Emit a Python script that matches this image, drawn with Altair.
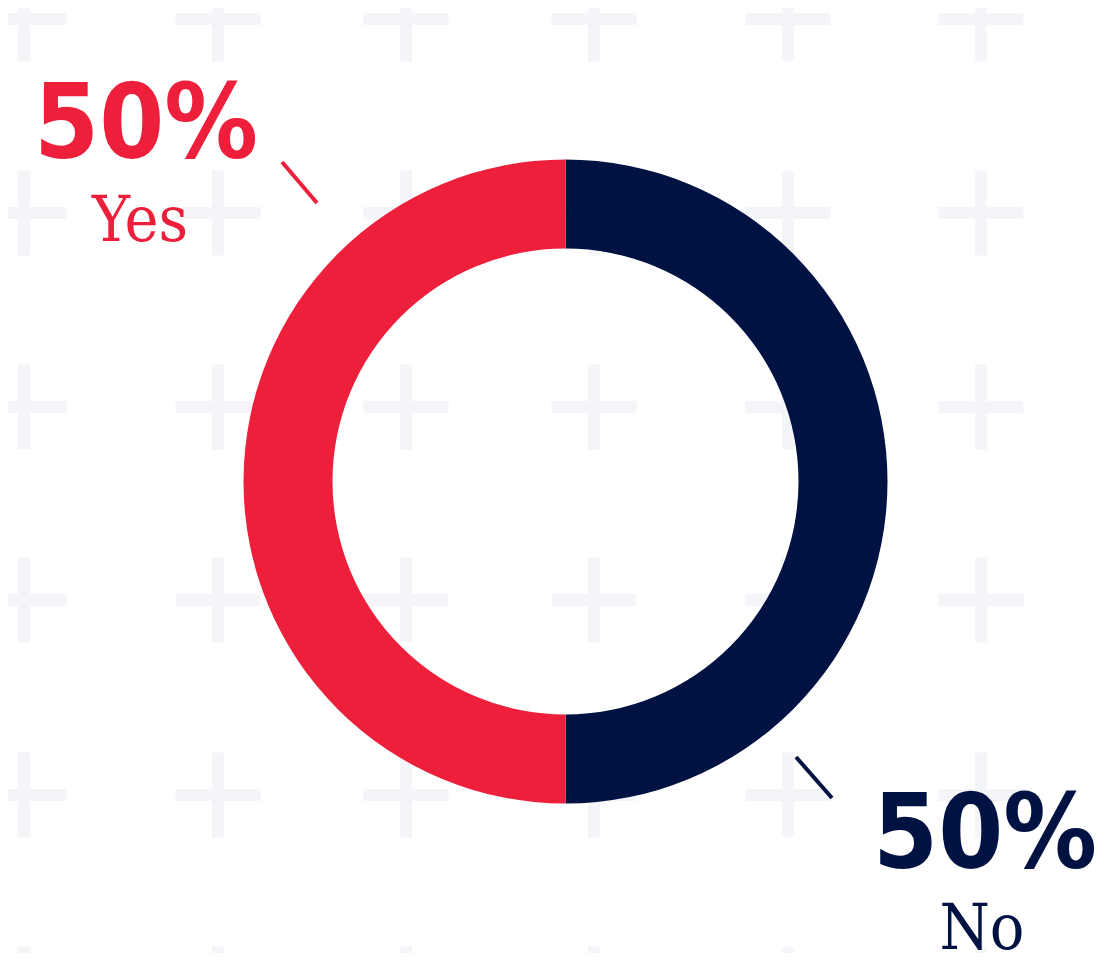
import altair as alt
import pandas as pd

# ---- data (screen pixel reference frame for positions) ----
answers = ["No", "Yes"]
shares = [50, 50]
pct_text = ["50%", "50%"]
answer_colors = ["#001242", "#EE1F3B"]

donut_center_x = [565.5]
donut_center_y = [481.5]

# percentage labels (centre x, baseline y)
pct_x = [985, 146]
pct_y = [868, 158]
# answer labels
lab_x = [982, 140]
lab_y = [949, 241]
# leader lines
line_x1 = [796, 282]
line_y1 = [757, 162]
line_x2 = [832, 317]
line_y2 = [798, 203]

# background plus grid
plus_cols = [24, 218, 406, 594, 788, 981]
plus_rows = [19, 213, 407, 600, 795, 989]

W, H = 1091, 945
xs = alt.Scale(domain=[8, 8 + W])
ys = alt.Scale(domain=[8 + H, 8])
cscale = alt.Scale(domain=answers, range=answer_colors)

donut_df = pd.DataFrame({
    "answer": answers, "share": shares, "idx": [0, 1],
    "cx": donut_center_x * 2, "cy": donut_center_y * 2,
})
text_df = pd.DataFrame({
    "answer": answers, "pct": pct_text, "px": pct_x, "py": pct_y,
    "lx": lab_x, "ly": lab_y,
})
line_df = pd.DataFrame({
    "answer": answers, "x1": line_x1, "y1": line_y1, "x2": line_x2, "y2": line_y2,
})
plus_df = pd.DataFrame(
    [{"gx": c, "gy": r} for r in plus_rows for c in plus_cols]
)

plus_path = "M-1,-0.14L1,-0.14L1,0.14L-1,0.14Z M-0.14,-1L0.14,-1L0.14,1L-0.14,1Z"

pluses = alt.Chart(plus_df).mark_point(
    shape=plus_path, size=85 * 85, filled=True, color="#F4F5F8", opacity=1, strokeWidth=0
).encode(
    x=alt.X("gx:Q", scale=xs, axis=None),
    y=alt.Y("gy:Q", scale=ys, axis=None),
)

donut = alt.Chart(donut_df).mark_arc(innerRadius=233, outerRadius=322).encode(
    theta=alt.Theta("share:Q", stack=True),
    order=alt.Order("idx:Q"),
    color=alt.Color("answer:N", scale=cscale, legend=None),
    x=alt.X("cx:Q", scale=xs, axis=None),
    y=alt.Y("cy:Q", scale=ys, axis=None),
)

lines = alt.Chart(line_df).mark_rule(strokeWidth=4).encode(
    x=alt.X("x1:Q", scale=xs, axis=None),
    y=alt.Y("y1:Q", scale=ys, axis=None),
    x2="x2:Q",
    y2="y2:Q",
    color=alt.Color("answer:N", scale=cscale, legend=None),
)

pct = alt.Chart(text_df).mark_text(
    font="'DejaVu Sans Condensed', 'DejaVu Sans', sans-serif",
    fontSize=104, fontWeight="bold", align="center", baseline="alphabetic",
).encode(
    x=alt.X("px:Q", scale=xs, axis=None),
    y=alt.Y("py:Q", scale=ys, axis=None),
    text="pct:N",
    color=alt.Color("answer:N", scale=cscale, legend=None),
)

labels = alt.Chart(text_df).mark_text(
    font="'DejaVu Serif Condensed', 'DejaVu Serif', serif",
    fontSize=64, align="center", baseline="alphabetic",
).encode(
    x=alt.X("lx:Q", scale=xs, axis=None),
    y=alt.Y("ly:Q", scale=ys, axis=None),
    text="answer:N",
    color=alt.Color("answer:N", scale=cscale, legend=None),
)

chart = alt.layer(pluses, donut, lines, pct, labels).properties(
    width=W, height=H, padding=0,
    autosize=alt.AutoSizeParams(type="none"),
    background="white",
).configure_view(strokeWidth=0)

chart.save("out.html", embed_options={"renderer": "svg", "actions": False})
